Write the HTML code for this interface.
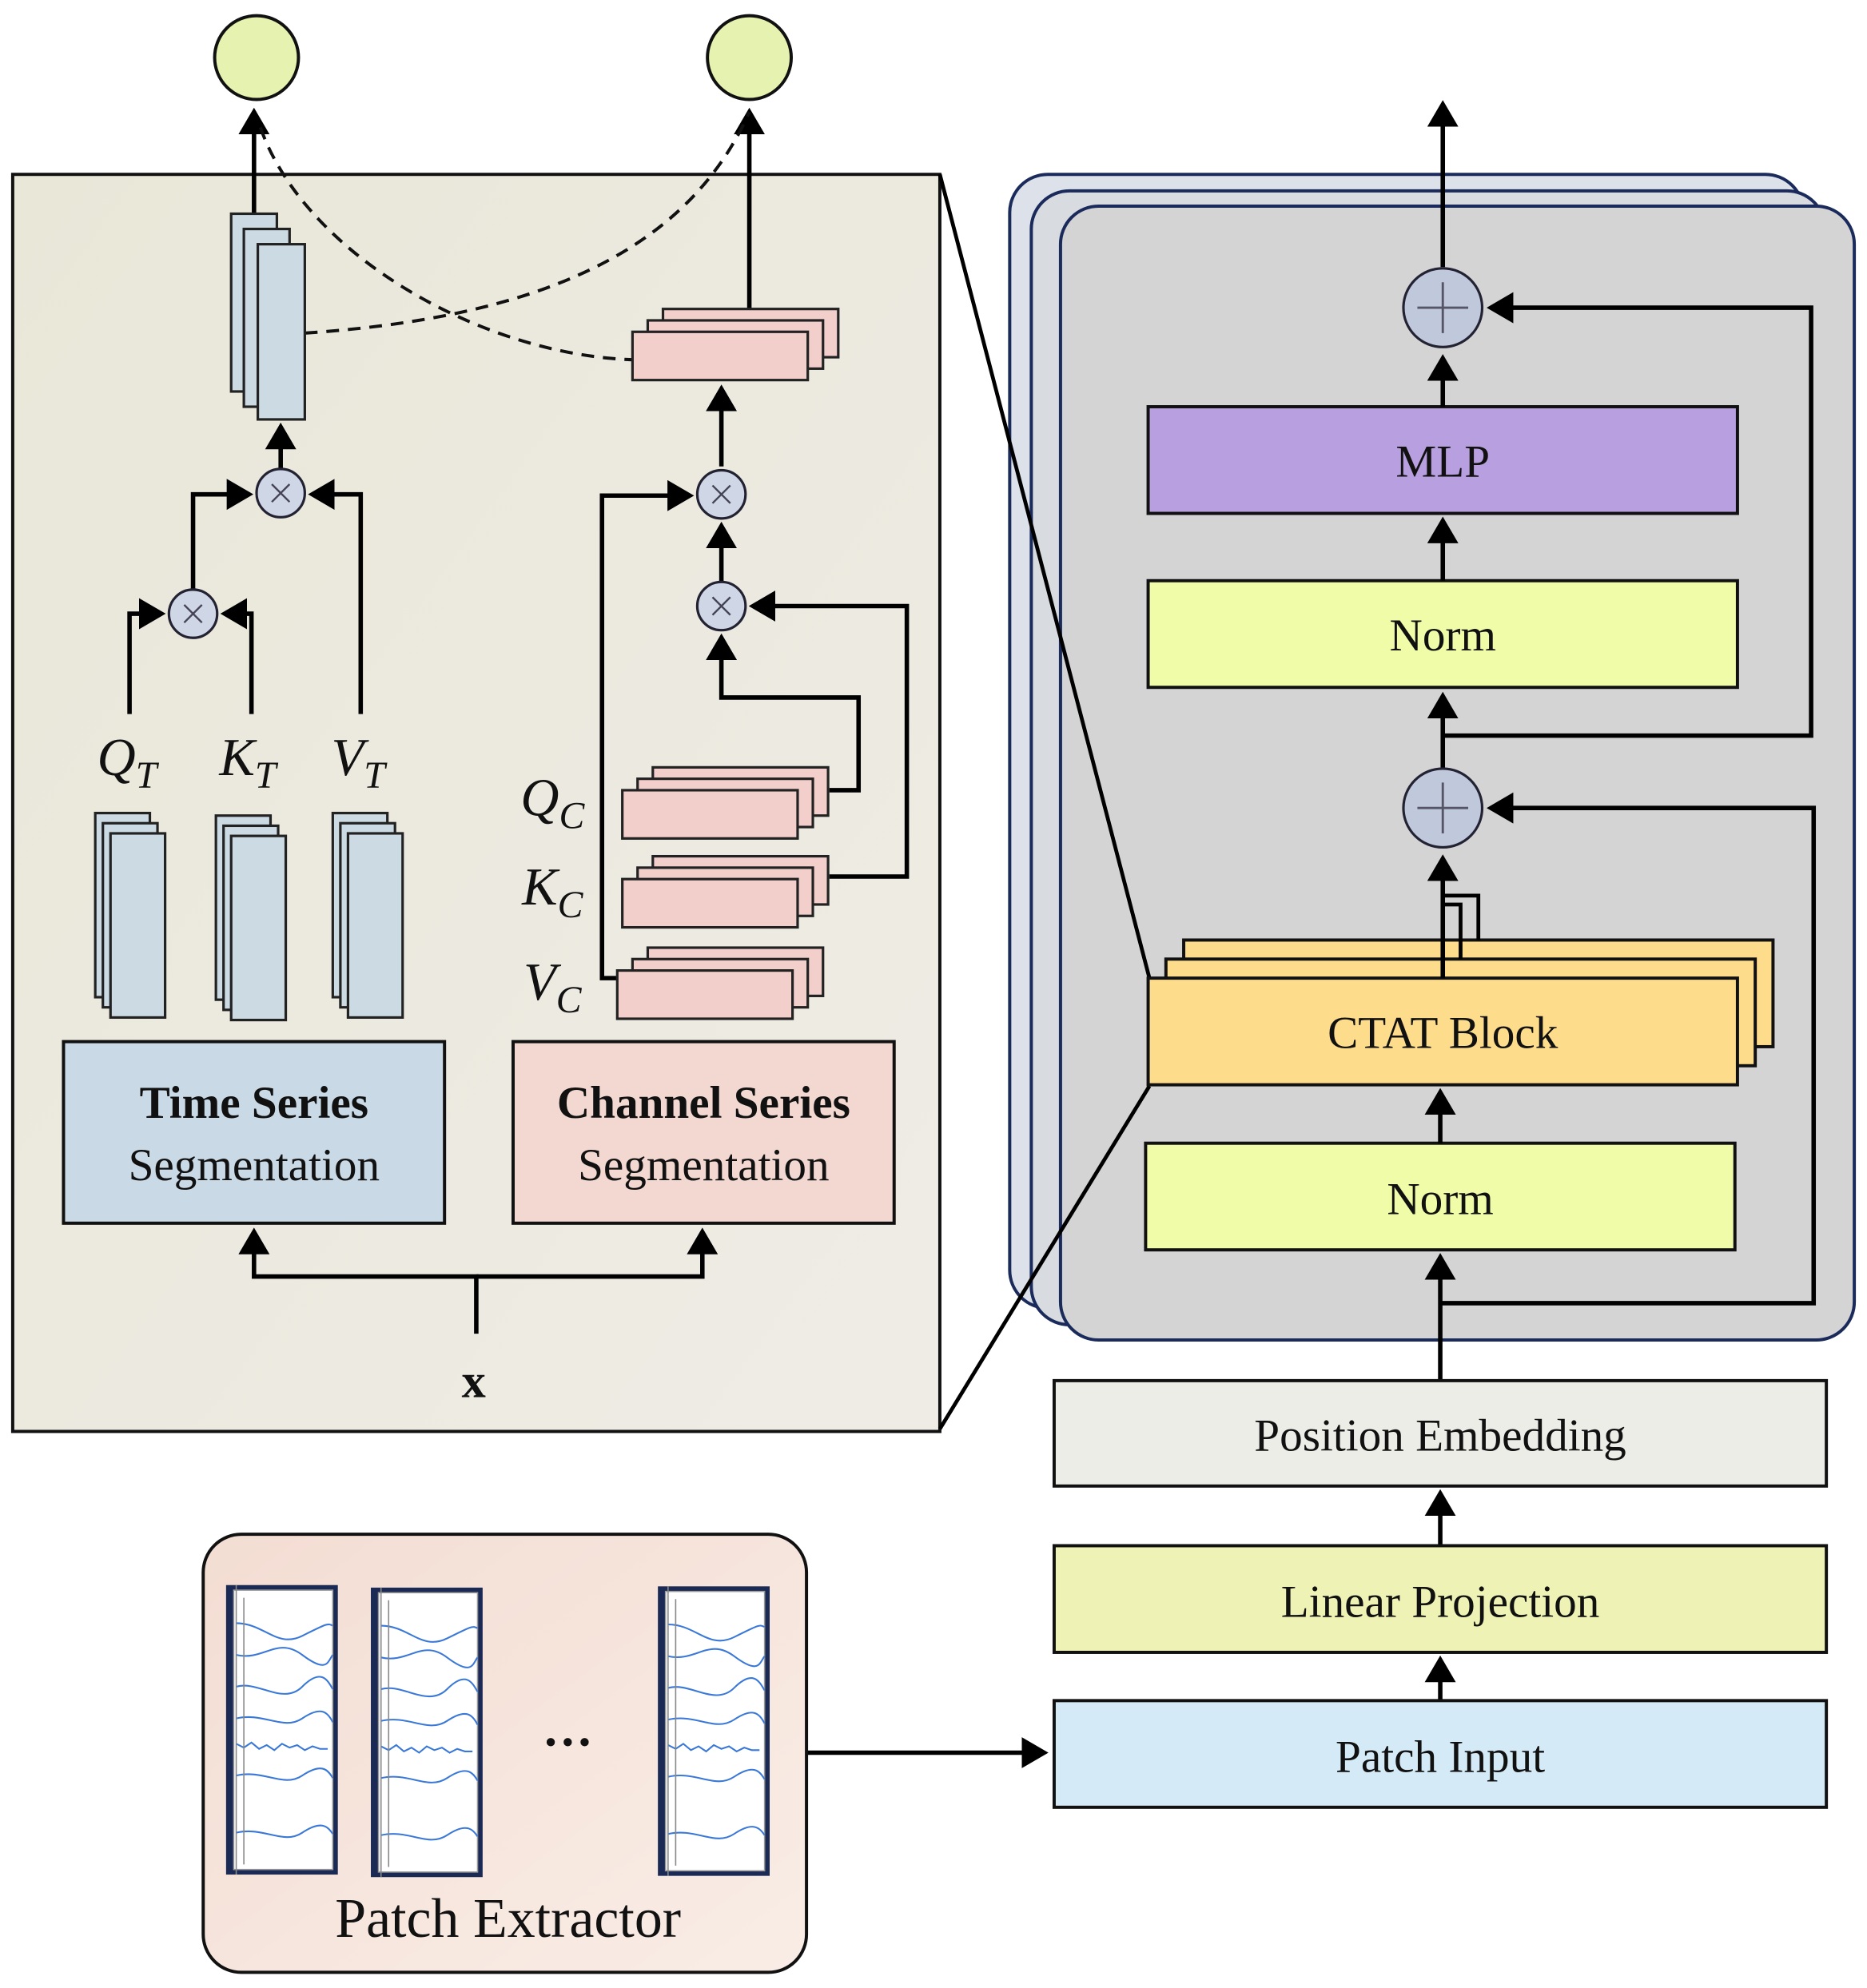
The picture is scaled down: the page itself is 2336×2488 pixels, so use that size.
<!DOCTYPE html>
<html><head><meta charset="utf-8"><style>
html,body{margin:0;padding:0;background:#fff}
svg{display:block}
text{font-family:"Liberation Serif",serif;fill:#111}
</style></head><body>
<svg width="2336" height="2488" viewBox="0 0 1470 1565" xmlns="http://www.w3.org/2000/svg">
<defs>
<marker id="a" markerWidth="7" markerHeight="7" refX="5" refY="3.5" orient="auto" markerUnits="strokeWidth"><path d="M0,0 L6,3.5 L0,7 z" fill="#000"/></marker>
<linearGradient id="lp" x1="0" y1="0" x2="1" y2="1"><stop offset="0" stop-color="#e9e7d8"/><stop offset="1" stop-color="#efece6"/></linearGradient>
<linearGradient id="pe" x1="0" y1="0" x2="1" y2="1"><stop offset="0" stop-color="#f3ddd3"/><stop offset="1" stop-color="#f9ede6"/></linearGradient>
<g id="pb"><rect x="0" y="0" width="43" height="145" fill="#ccdae4" stroke="#222" stroke-width="2"/><rect x="6" y="8" width="43" height="145" fill="#ccdae4" stroke="#222" stroke-width="2"/><rect x="12" y="16" width="43" height="145" fill="#ccdae4" stroke="#222" stroke-width="2"/></g>
<g id="pk"><rect x="24" y="0" width="138" height="38" fill="#f2cfcb" stroke="#222" stroke-width="2"/><rect x="12" y="9" width="138" height="38" fill="#f2cfcb" stroke="#222" stroke-width="2"/><rect x="0" y="18" width="138" height="38" fill="#f2cfcb" stroke="#222" stroke-width="2"/></g>
<g id="wave"><rect x="0" y="0" width="88" height="228" fill="#1b2a55"/><rect x="6" y="4" width="78" height="220" fill="#fff" stroke="#999"/>
<g fill="none" stroke="#3a78d8" stroke-width="1.3">
<path d="M8,30 C30,30 40,50 60,40 S80,30 84,32"/><path d="M8,55 C30,60 40,40 60,55 S80,60 84,55"/><path d="M8,80 C25,75 45,95 60,80 S80,75 84,82"/><path d="M8,105 C30,100 45,115 60,105 S80,100 84,108"/><path d="M8,125 l6,3 l6,-4 l6,5 l6,-3 l6,4 l6,-5 l6,3 l6,-2 l6,4 l6,-3 l6,2 l6,0"/><path d="M8,150 C30,145 45,160 60,150 S80,145 84,152"/><path d="M8,195 C30,190 45,205 60,195 S80,190 84,196"/></g>
<path d="M8,0 v228 M14,10 v210" stroke="#888" stroke-width="1"/></g>
</defs>

<rect x="10" y="137" width="730" height="990" fill="url(#lp)" stroke="#111" stroke-width="2.5"/>
<circle cx="202" cy="45" r="33" fill="#e6f2b0" stroke="#111" stroke-width="2.5"/>
<circle cx="590" cy="45" r="33" fill="#e6f2b0" stroke="#111" stroke-width="2.5"/>

<rect x="50" y="820" width="300" height="143" fill="#c9d9e6" stroke="#111" stroke-width="2.5"/>
<text x="200" y="880" text-anchor="middle" font-size="36" font-weight="bold">Time Series</text>
<text x="200" y="929" text-anchor="middle" font-size="36">Segmentation</text>
<rect x="404" y="820" width="300" height="143" fill="#f2d8d0" stroke="#111" stroke-width="2.5"/>
<text x="554" y="880" text-anchor="middle" font-size="36" font-weight="bold">Channel Series</text>
<text x="554" y="929" text-anchor="middle" font-size="36">Segmentation</text>

<g fill="none" stroke="#000" stroke-width="3.5">
<path d="M375,1050 V1005 H200 V970" marker-end="url(#a)"/>
<path d="M375,1005 H553 V970" marker-end="url(#a)"/>
</g>
<text x="373" y="1100" text-anchor="middle" font-size="38" font-weight="bold">x</text>

<use href="#pb" x="75" y="640"/><use href="#pb" x="170" y="642"/><use href="#pb" x="262" y="640"/>
<text x="100" y="610" text-anchor="middle" font-size="42" font-style="italic">Q<tspan font-size="30" dy="10">T</tspan></text>
<text x="195" y="610" text-anchor="middle" font-size="42" font-style="italic">K<tspan font-size="30" dy="10">T</tspan></text>
<text x="282" y="610" text-anchor="middle" font-size="42" font-style="italic">V<tspan font-size="30" dy="10">T</tspan></text>

<g fill="none" stroke="#000" stroke-width="3.5">
<path d="M102,562 V483 H127" marker-end="url(#a)"/>
<path d="M198,562 V483 H177" marker-end="url(#a)"/>
<path d="M152,464 V389 H196" marker-end="url(#a)"/>
<path d="M284,562 V389 H246" marker-end="url(#a)"/>
<path d="M221,369 V336" marker-end="url(#a)"/>
<path d="M200,168 V88" marker-end="url(#a)"/>
<path d="M590,243 V88" marker-end="url(#a)"/>
<path d="M568,367 V306" marker-end="url(#a)"/>
<path d="M568,458 V414" marker-end="url(#a)"/>
<path d="M653,622 H676 V549 H568 V502" marker-end="url(#a)"/>
<path d="M653,690 H714 V477 H593" marker-end="url(#a)"/>
<path d="M486,770 H474 V390 H543" marker-end="url(#a)"/>
</g>
<g fill="none" stroke="#111" stroke-width="2.5" stroke-dasharray="10,7">
<path d="M240,262 C420,250 540,200 590,88"/>
<path d="M205,100 C240,200 380,280 500,283"/>
</g>
<g fill="#ccdae4" stroke="#222" stroke-width="2"><rect x="182" y="168" width="36" height="140"/><rect x="192" y="180" width="36" height="140"/><rect x="203" y="192" width="37" height="138"/></g>
<use href="#pk" x="498" y="243"/>
<use href="#pk" x="490" y="604"/><use href="#pk" x="490" y="674"/><use href="#pk" x="486" y="746"/>
<text x="435" y="642" text-anchor="middle" font-size="42" font-style="italic">Q<tspan font-size="30" dy="10">C</tspan></text>
<text x="435" y="712" text-anchor="middle" font-size="42" font-style="italic">K<tspan font-size="30" dy="10">C</tspan></text>
<text x="435" y="787" text-anchor="middle" font-size="42" font-style="italic">V<tspan font-size="30" dy="10">C</tspan></text>
<g fill="#cfd6e6" stroke="#223" stroke-width="2">
<circle cx="152" cy="483" r="19"/><circle cx="221" cy="388" r="19"/><circle cx="568" cy="389" r="19"/><circle cx="568" cy="477" r="19"/></g>
<g stroke="#445" stroke-width="1.5"><path d="M145,476 l14,14 M159,476 l-14,14 M214,381 l14,14 M228,381 l-14,14 M561,382 l14,14 M575,382 l-14,14 M561,470 l14,14 M575,470 l-14,14"/></g>

<rect x="795" y="137" width="625" height="893" rx="30" fill="#dde2ea" stroke="#1a2a5a" stroke-width="2.5"/>
<rect x="812" y="150" width="625" height="893" rx="30" fill="#d8dbe0" stroke="#1a2a5a" stroke-width="2.5"/>
<rect x="835" y="162" width="625" height="893" rx="30" fill="#d4d4d4" stroke="#1a2a5a" stroke-width="2.5"/>
<g stroke="#000" stroke-width="3"><path d="M740,137 L905,770"/><path d="M740,1125 L905,855"/></g>

<rect x="904" y="320" width="464" height="84" fill="#b8a0e0" stroke="#111" stroke-width="2.5"/>
<text x="1136" y="375" text-anchor="middle" font-size="36">MLP</text>
<rect x="904" y="457" width="464" height="84" fill="#f0fca8" stroke="#111" stroke-width="2.5"/>
<text x="1136" y="512" text-anchor="middle" font-size="36">Norm</text>
<rect x="932" y="740" width="464" height="84" fill="#fddc8c" stroke="#111" stroke-width="2.5"/>
<rect x="918" y="755" width="464" height="84" fill="#fddc8c" stroke="#111" stroke-width="2.5"/>
<path d="M1136,756 V705 H1164 V740 M1136,756 V712 H1150 V755" fill="none" stroke="#000" stroke-width="3"/>
<rect x="904" y="770" width="464" height="84" fill="#fddc8c" stroke="#111" stroke-width="2.5"/>
<text x="1136" y="825" text-anchor="middle" font-size="36">CTAT Block</text>
<rect x="902" y="900" width="464" height="84" fill="#f0fca8" stroke="#111" stroke-width="2.5"/>
<text x="1134" y="956" text-anchor="middle" font-size="36">Norm</text>

<g fill="none" stroke="#000" stroke-width="3.5">
<path d="M1136,210 V82" marker-end="url(#a)"/>
<path d="M1136,320 V282" marker-end="url(#a)"/>
<path d="M1136,457 V410" marker-end="url(#a)"/>
<path d="M1136,605 V548" marker-end="url(#a)"/>
<path d="M1136,579 H1426 V242 H1174" marker-end="url(#a)"/>
<path d="M1136,770 V676" marker-end="url(#a)"/>
<path d="M1134,900 V860" marker-end="url(#a)"/>
<path d="M1134,1087 V990" marker-end="url(#a)"/>
<path d="M1134,1026 H1428 V636 H1174" marker-end="url(#a)"/>
<path d="M1134,1217 V1176" marker-end="url(#a)"/>
<path d="M1134,1339 V1307" marker-end="url(#a)"/>
<path d="M635,1380 H822" marker-end="url(#a)"/>
</g>
<g fill="#c0c8dc" stroke="#223" stroke-width="2"><circle cx="1136" cy="242" r="31"/><circle cx="1136" cy="636" r="31"/></g>
<g stroke="#556" stroke-width="1.8"><path d="M1136,222 v40 M1116,242 h40 M1136,616 v40 M1116,636 h40"/></g>

<rect x="830" y="1087" width="608" height="83" fill="#edede8" stroke="#111" stroke-width="2.5"/>
<text x="1134" y="1142" text-anchor="middle" font-size="36">Position Embedding</text>
<rect x="830" y="1217" width="608" height="84" fill="#eef2b4" stroke="#111" stroke-width="2.5"/>
<text x="1134" y="1273" text-anchor="middle" font-size="36">Linear Projection</text>
<rect x="830" y="1339" width="608" height="84" fill="#d4eaf6" stroke="#111" stroke-width="2.5"/>
<text x="1134" y="1395" text-anchor="middle" font-size="36">Patch Input</text>

<rect x="160" y="1208" width="475" height="345" rx="30" fill="url(#pe)" stroke="#111" stroke-width="2.5"/>
<use href="#wave" x="178" y="1248"/><use href="#wave" x="292" y="1250"/><use href="#wave" x="518" y="1249"/>
<text x="447" y="1385" text-anchor="middle" font-size="40" font-weight="bold">···</text>
<text x="400" y="1525" text-anchor="middle" font-size="44">Patch Extractor</text>
</svg>
</body></html>
